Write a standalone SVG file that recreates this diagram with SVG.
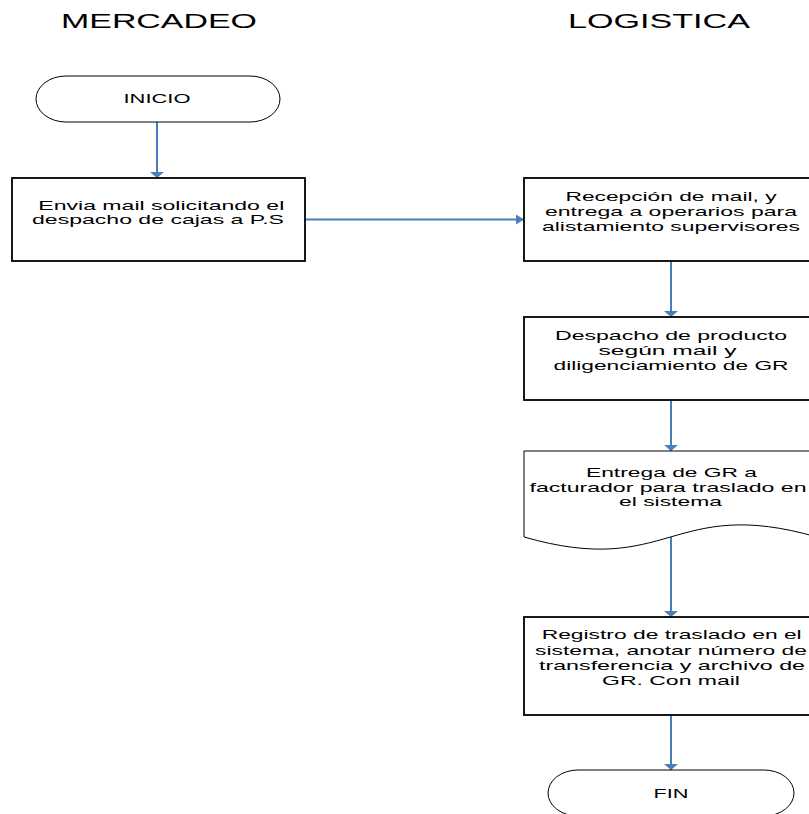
<svg xmlns="http://www.w3.org/2000/svg" width="809" height="814" viewBox="0 0 809 814">
  <style>
    .lane { font-family: "Liberation Sans", Arial, sans-serif; font-size: 19.5px; fill: #000; }
    .lbl { font-family: "Liberation Sans", Arial, sans-serif; font-size: 13.5px; fill: #000; text-anchor: middle; }
    .box { fill: #fff; stroke: #000; stroke-width: 1.8; }
    .term { fill: #fff; stroke: #000; stroke-width: 1; }
    .flow { fill: none; stroke: #4A7EBB; stroke-width: 2; }
  </style>
  <defs>
    <marker id="headV" markerUnits="userSpaceOnUse" markerWidth="8" markerHeight="14" refX="6" refY="7" orient="auto">
      <path d="M0,0 L6,7 L0,14 Z" fill="#4A7EBB"/>
    </marker>
    <marker id="headH" markerUnits="userSpaceOnUse" markerWidth="10" markerHeight="10" refX="8" refY="5" orient="auto">
      <path d="M0,0 L8,5 L0,10 Z" fill="#4A7EBB"/>
    </marker>
  </defs>
  <rect width="809" height="814" fill="#fff"/>

  <!-- swimlane titles -->
  <text class="lane" x="61" y="27.5" textLength="196" lengthAdjust="spacingAndGlyphs">MERCADEO</text>
  <text class="lane" x="568" y="27.5" textLength="182" lengthAdjust="spacingAndGlyphs">LOGISTICA</text>

  <!-- connectors -->
  <g id="connectors">
    <line class="flow" x1="157" y1="122" x2="157" y2="178" marker-end="url(#headV)"/>
    <line class="flow" x1="305" y1="219.5" x2="524" y2="219.5" marker-end="url(#headH)"/>
    <line class="flow" x1="671" y1="261" x2="671" y2="317" marker-end="url(#headV)"/>
    <line class="flow" x1="671" y1="400" x2="671" y2="451" marker-end="url(#headV)"/>
    <line class="flow" x1="671" y1="537" x2="671" y2="617" marker-end="url(#headV)"/>
    <line class="flow" x1="671" y1="715" x2="671" y2="770" marker-end="url(#headV)"/>
  </g>

  <g id="inicio">
    <rect class="term" x="36" y="76" width="244" height="46" rx="30" ry="23"/>
    <text class="lbl" x="157" y="103.3" textLength="67" lengthAdjust="spacingAndGlyphs">INICIO</text>
  </g>

  <g id="envia-mail">
    <rect class="box" x="12" y="178" width="293" height="83"/>
    <text class="lbl" x="161.3" y="210" textLength="246" lengthAdjust="spacingAndGlyphs">Envia mail solicitando el</text>
    <text class="lbl" x="158" y="224.3" textLength="252" lengthAdjust="spacingAndGlyphs">despacho de cajas a P.S</text>
  </g>

  <g id="recepcion-mail">
    <rect class="box" x="524" y="178" width="293" height="83"/>
    <text class="lbl" x="671" y="200.7" textLength="211" lengthAdjust="spacingAndGlyphs">Recepción de mail, y</text>
    <text class="lbl" x="671" y="215.8" textLength="252" lengthAdjust="spacingAndGlyphs">entrega a operarios para</text>
    <text class="lbl" x="671" y="231" textLength="258" lengthAdjust="spacingAndGlyphs">alistamiento supervisores</text>
  </g>

  <g id="despacho-producto">
    <rect class="box" x="524" y="317" width="293" height="83"/>
    <text class="lbl" x="671" y="340.3" textLength="232" lengthAdjust="spacingAndGlyphs">Despacho de producto</text>
    <text class="lbl" x="667.5" y="355.3" textLength="138" lengthAdjust="spacingAndGlyphs">según mail y</text>
    <text class="lbl" x="671" y="370.3" textLength="235" lengthAdjust="spacingAndGlyphs">diligenciamiento de GR</text>
  </g>

  <g id="entrega-gr">
    <!-- document shape: wavy bottom, trough left, crest right -->
    <path class="term" d="M524,451 L817,451 L817,537 C670.5,579 670.5,495 524,537 Z" transform="matrix(-1,0,0,1,1341,0)"/>
    <text class="lbl" x="671.5" y="476.7" textLength="171" lengthAdjust="spacingAndGlyphs">Entrega de GR a</text>
    <text class="lbl" x="668" y="491.7" textLength="277" lengthAdjust="spacingAndGlyphs">facturador para traslado en</text>
    <text class="lbl" x="670.5" y="506" textLength="103" lengthAdjust="spacingAndGlyphs">el sistema</text>
  </g>

  <g id="registro-traslado">
    <rect class="box" x="524" y="617" width="293" height="98"/>
    <text class="lbl" x="671.7" y="639.3" textLength="260" lengthAdjust="spacingAndGlyphs">Registro de traslado en el</text>
    <text class="lbl" x="671" y="655" textLength="272" lengthAdjust="spacingAndGlyphs">sistema, anotar número de</text>
    <text class="lbl" x="672" y="670" textLength="266" lengthAdjust="spacingAndGlyphs">transferencia y archivo de</text>
    <text class="lbl" x="671" y="685" textLength="138" lengthAdjust="spacingAndGlyphs">GR. Con mail</text>
  </g>

  <g id="fin">
    <rect class="term" x="548" y="770" width="246" height="46" rx="30" ry="23"/>
    <text class="lbl" x="671" y="797.7" textLength="35" lengthAdjust="spacingAndGlyphs">FIN</text>
  </g>
</svg>
